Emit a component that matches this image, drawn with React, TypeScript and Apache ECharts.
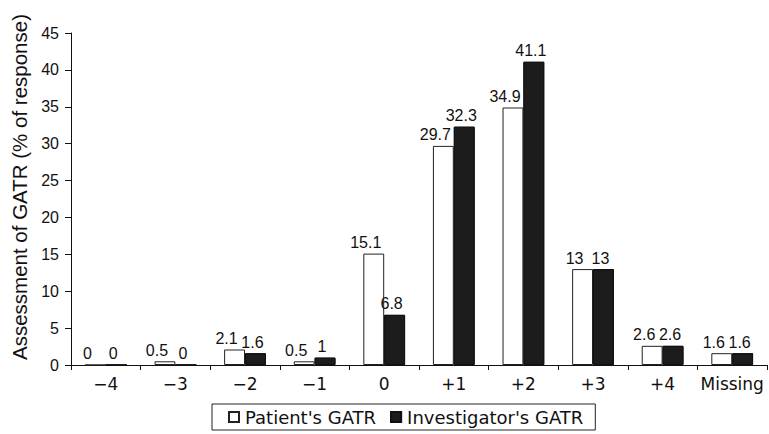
import React, { useEffect, useRef } from "react";
import * as echarts from "echarts";

const categories = ["\u22124", "\u22123", "\u22122", "\u22121", "0", "+1", "+2", "+3", "+4", "Missing"];
const patientGATR = [0, 0.5, 2.1, 0.5, 15.1, 29.7, 34.9, 13, 2.6, 1.6];
const investigatorGATR = [0, 0, 1.6, 1, 6.8, 32.3, 41.1, 13, 2.6, 1.6];
const seriesNames = ["Patient's GATR", "Investigator's GATR"];
const yAxisTitle = "Assessment of GATR (% of response)";

const FONT = "'Liberation Sans', Arial, Helvetica, sans-serif";
const WIDE = "'DejaVu Sans', 'Liberation Sans', Arial, sans-serif";

export default function App() {
  const ref = useRef<HTMLDivElement>(null);
  useEffect(() => {
    if (!ref.current) return;
    const chart = echarts.init(ref.current, undefined, { renderer: "svg" });
    const label = (dx: number) => ({
      show: true,
      position: "top",
      distance: 3,
      offset: [dx, 0],
      color: "#111",
      fontSize: 16,
      fontFamily: FONT,
      formatter: (p: any) => String(p.value),
    });
    chart.setOption({
      animation: false,
      backgroundColor: "#fff",
      textStyle: { fontFamily: FONT, color: "#111" },
      grid: { left: 71, right: 2, top: 33, bottom: 69 },
      legend: {
        left: 212,
        top: 404,
        data: seriesNames,
        borderColor: "#222",
        borderWidth: 1,
        borderRadius: 0,
        padding: [4, 12, 4, 16],
        itemWidth: 10,
        itemHeight: 10,
        itemGap: 14,
        icon: "rect",
        textStyle: { fontSize: 18, color: "#111", fontFamily: WIDE, padding: [0, 0, 0, 1] },
      },
      xAxis: {
        type: "category",
        data: categories,
        axisLine: { lineStyle: { color: "#111", width: 1 } },
        axisTick: { show: true, length: 5, lineStyle: { color: "#111" } },
        axisLabel: { fontSize: 17, color: "#111", margin: 10, fontFamily: WIDE, interval: 0 },
      },
      yAxis: {
        type: "value",
        min: 0,
        max: 45,
        interval: 5,
        name: yAxisTitle,
        nameLocation: "middle",
        nameGap: 38,
        nameTextStyle: { fontSize: 20.5, color: "#111", fontFamily: FONT, padding: [0, 0, 0, 24] },
        axisLine: { show: true, lineStyle: { color: "#111", width: 1 } },
        axisTick: { show: true, length: 6, lineStyle: { color: "#111" } },
        axisLabel: { fontSize: 16, color: "#111", margin: 12, fontFamily: FONT },
        splitLine: { show: false },
      },
      series: [
        {
          name: seriesNames[0],
          type: "bar",
          data: patientGATR,
          barGap: "0%",
          barCategoryGap: "40%",
          itemStyle: { color: "#ffffff", borderColor: "#222", borderWidth: 1 },
          label: label(-8),
        },
        {
          name: seriesNames[1],
          type: "bar",
          data: investigatorGATR,
          barGap: "0%",
          barCategoryGap: "40%",
          itemStyle: {
            color: "#1c1c1c",
            borderColor: "#111",
            borderWidth: 1,
            decal: {
              symbol: "circle",
              symbolSize: 0.5,
              color: "rgba(200,200,200,0.45)",
              dashArrayX: [[1, 3]],
              dashArrayY: [1, 3],
              rotation: 0.4,
            },
          },
          label: label(-3),
        },
      ],
    });
    return () => chart.dispose();
  }, []);
  return <div ref={ref} style={{ width: 769, height: 434, position: "absolute", left: 0, top: 0 }} />;
}
